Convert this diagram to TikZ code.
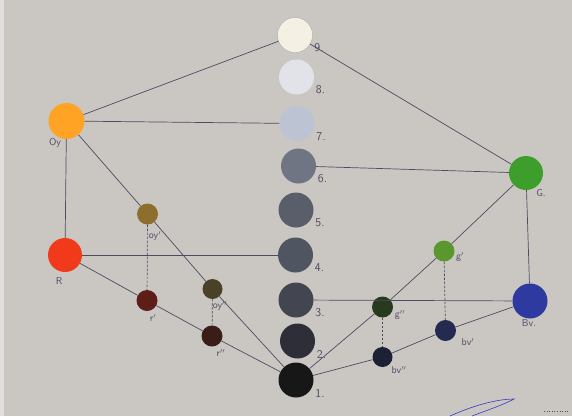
\documentclass[tikz,border=0pt]{standalone}
\usepackage{tikz}
\usetikzlibrary{positioning}
\definecolor{paper}{RGB}{202,199,195}
\definecolor{ink}{RGB}{78,74,98}
\definecolor{gnine}{RGB}{244,241,228}
\definecolor{geight}{RGB}{226,227,232}
\definecolor{gseven}{RGB}{188,195,211}
\definecolor{gsix}{RGB}{112,117,132}
\definecolor{gfive}{RGB}{90,94,107}
\definecolor{gfour}{RGB}{80,85,98}
\definecolor{gthree}{RGB}{67,70,80}
\definecolor{gtwo}{RGB}{46,46,56}
\definecolor{gone}{RGB}{22,23,22}
\definecolor{orangey}{RGB}{255,163,36}
\definecolor{redd}{RGB}{240,58,26}
\definecolor{oyone}{RGB}{142,110,44}
\definecolor{oytwo}{RGB}{74,66,40}
\definecolor{rone}{RGB}{94,30,24}
\definecolor{rtwo}{RGB}{58,29,23}
\definecolor{greenn}{RGB}{62,158,44}
\definecolor{gone'}{RGB}{90,152,46}
\definecolor{gtwo'}{RGB}{40,58,30}
\definecolor{bluev}{RGB}{46,58,160}
\definecolor{bvone}{RGB}{37,43,80}
\definecolor{bvtwo}{RGB}{30,32,54}

\begin{document}
\begin{tikzpicture}[x=1pt,y=-1pt,
  swatch/.style={circle,inner sep=0pt,minimum size=#1},
  lbl/.style={font=\sffamily\fontsize{12}{12}\selectfont,text=ink,inner sep=0pt},
  tag/.style={font=\sffamily\fontsize{10}{10}\selectfont,text=ink,inner sep=0pt},
  link/.style={ink,line width=0.7pt},
  plumb/.style={ink,line width=0.7pt,dash pattern=on 2.5pt off 1.5pt}]
 \fill[paper] (0,0) rectangle (572,416);
 \useasboundingbox (0,0) rectangle (572,416);
 \fill[paper!55!white] (0,0) rectangle (4,416);
 % neutral scale
 \foreach \n/\px/\py/\col in {9/295/35/gnine,8/296.5/77/geight,7/297/123.5/gseven,
   6/298.5/166/gsix,5/296/210/gfive,4/295.5/255/gfour,3/296/300/gthree,
   2/297.5/341/gtwo,1/296/380/gone} {
   \node[swatch=35pt,fill=\col] (s\n) at (\px,\py) {};
   \node[lbl] (l\n) at (\px+24,\py+13) {\n.};
 }
 \draw[gray!70,line width=0.3pt] (s9) circle (17.5pt);
 % hues
 \node[swatch=36pt,fill=orangey] (oy) at (66.5,121) {};
 \node[swatch=34pt,fill=redd] (r) at (65,255) {};
 \node[swatch=34pt,fill=greenn] (g) at (526,173) {};
 \node[swatch=35pt,fill=bluev] (bv) at (530,301) {};
 \node[swatch=21pt,fill=oyone] (oy1) at (147.5,214) {};
 \node[swatch=20pt,fill=oytwo] (oy2) at (212.5,289) {};
 \node[swatch=21pt,fill=rone] (r1) at (147,300.5) {};
 \node[swatch=21pt,fill=rtwo] (r2) at (212,336) {};
 \node[swatch=21pt,fill=gone'] (g1) at (444,251) {};
 \node[swatch=21pt,fill=gtwo'] (g2) at (382.5,307) {};
 \node[swatch=21pt,fill=bvone] (bv1) at (445.5,330.5) {};
 \node[swatch=20pt,fill=bvtwo] (bv2) at (382.5,357) {};
 \node[tag] (loy) at (55,143) {Oy};
 \node[tag] (lr) at (59,281) {R};
 \node[tag] (lg) at (541,193) {G.};
 \node[tag] (lbv) at (529,323) {Bv.};
 \node[tag] (loy1) at (155,236) {oy$'$};
 \node[tag] (loy2) at (220,306) {oy$''$};
 \node[tag] (lr1) at (153,318) {r$'$};
 \node[tag] (lr2) at (221,353) {r$''$};
 \node[tag] (lg1) at (460,257) {g$'$};
 \node[tag] (lg2) at (400,315) {g$''$};
 \node[tag] (lbv1) at (468,342) {bv$'$};
 \node[tag] (lbv2) at (399,370) {bv$''$};
 % connectors
 \draw[link] (s9) -- (oy);
 \draw[link] (s9) -- (g);
 \draw[link] (oy) -- (s7);
 \draw[link] (oy) -- (r);
 \draw[link] (r) -- (s4);
 \draw[link] (g) -- (s6);
 \draw[link] (g) -- (bv);
 \draw[link] (bv) -- (s3);
 \draw[link] (oy) -- (oy1);
 \draw[link] (oy1) -- (oy2);
 \draw[link] (oy2) -- (s1);
 \draw[link] (r) -- (r1);
 \draw[link] (r1) -- (r2);
 \draw[link] (r2) -- (s1);
 \draw[link] (g) -- (g1);
 \draw[link] (g1) -- (g2);
 \draw[link] (g2) -- (s1);
 \draw[link] (bv) -- (bv1);
 \draw[link] (bv1) -- (bv2);
 \draw[link] (bv2) -- (s1);
 \draw[plumb] (oy1) -- (r1);
 \draw[plumb] (oy2) -- (r2);
 \draw[plumb] (g1) -- (bv1);
 \draw[plumb] (g2) -- (bv2);
 % signature
 \draw[blue!55!gray,line width=0.6pt] (450,416) .. controls (470,407) and (495,399) .. (514,399)
   .. controls (505,404) and (488,410) .. (472,416);
 \draw[ink,line width=0.6pt,dotted] (544,411) -- (568,411);
\end{tikzpicture}
\end{document}
